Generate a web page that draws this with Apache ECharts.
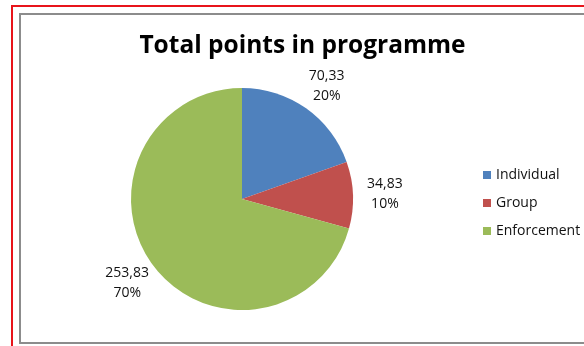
<!DOCTYPE html>
<html>
<head>
<meta charset="utf-8">
<script src="https://cdn.jsdelivr.net/npm/echarts@6/dist/echarts.min.js"></script>
<style>
html,body{margin:0;padding:0;background:#fff;width:584px;height:346px;overflow:hidden;position:relative;}
#red{position:absolute;left:11px;top:5px;width:600px;height:400px;border-left:2px solid #e8141b;border-top:2px solid #e8141b;box-sizing:border-box;}
#gray{position:absolute;left:19px;top:13px;width:600px;height:331px;border-left:2px solid #8c8c8c;border-top:2px solid #8c8c8c;border-bottom:2px solid #8c8c8c;box-sizing:border-box;}
#chart{position:absolute;left:21px;top:15px;width:563px;height:327px;}
</style>
</head>
<body>
<div id="red"></div>
<div id="gray"></div>
<div id="chart"></div>
<script>
var categories = ['Individual', 'Group', 'Enforcement'];
var values = [70.33, 34.83, 253.83];
var percentLabels = ['20%', '10%', '70%'];
var colors = ['#4f81bd', '#c0504d', '#9bbb59'];

var chart = echarts.init(document.getElementById('chart'), null, {renderer: 'canvas'});
var data = categories.map(function (c, i) {
  return {name: c, value: values[i], itemStyle: {color: colors[i]}};
});
chart.setOption({
  animation: false,
  title: {
    text: 'Total points in programme',
    left: 'center',
    top: 19,
    padding: 0,
    textStyle: {fontFamily: 'Open Sans', fontWeight: 'bold', fontSize: 24.5, color: '#000'}
  },
  legend: {
    orient: 'vertical',
    left: 462,
    top: 153,
    itemWidth: 8,
    itemHeight: 8,
    itemGap: 14,
    icon: 'rect',
    padding: 0,
    data: categories,
    textStyle: {fontFamily: 'Open Sans', fontSize: 14, color: '#111'}
  },
  series: [{
    type: 'pie',
    center: [221, 184],
    radius: 111,
    startAngle: 90,
    clockwise: true,
    avoidLabelOverlap: false,
    data: data,
    label: {
      show: true,
      position: 'outside',
      fontFamily: 'Open Sans',
      fontSize: 14,
      lineHeight: 20,
      color: '#111',
      formatter: function (p) {
        return String(values[p.dataIndex]).replace('.', ',') + '\n' + percentLabels[p.dataIndex];
      }
    },
    labelLine: {show: false, length: 27, length2: 0},
    labelLayout: function () { return {align: 'center', verticalAlign: 'middle'}; },
    emphasis: {disabled: true}
  }]
});
</script>
</body>
</html>
